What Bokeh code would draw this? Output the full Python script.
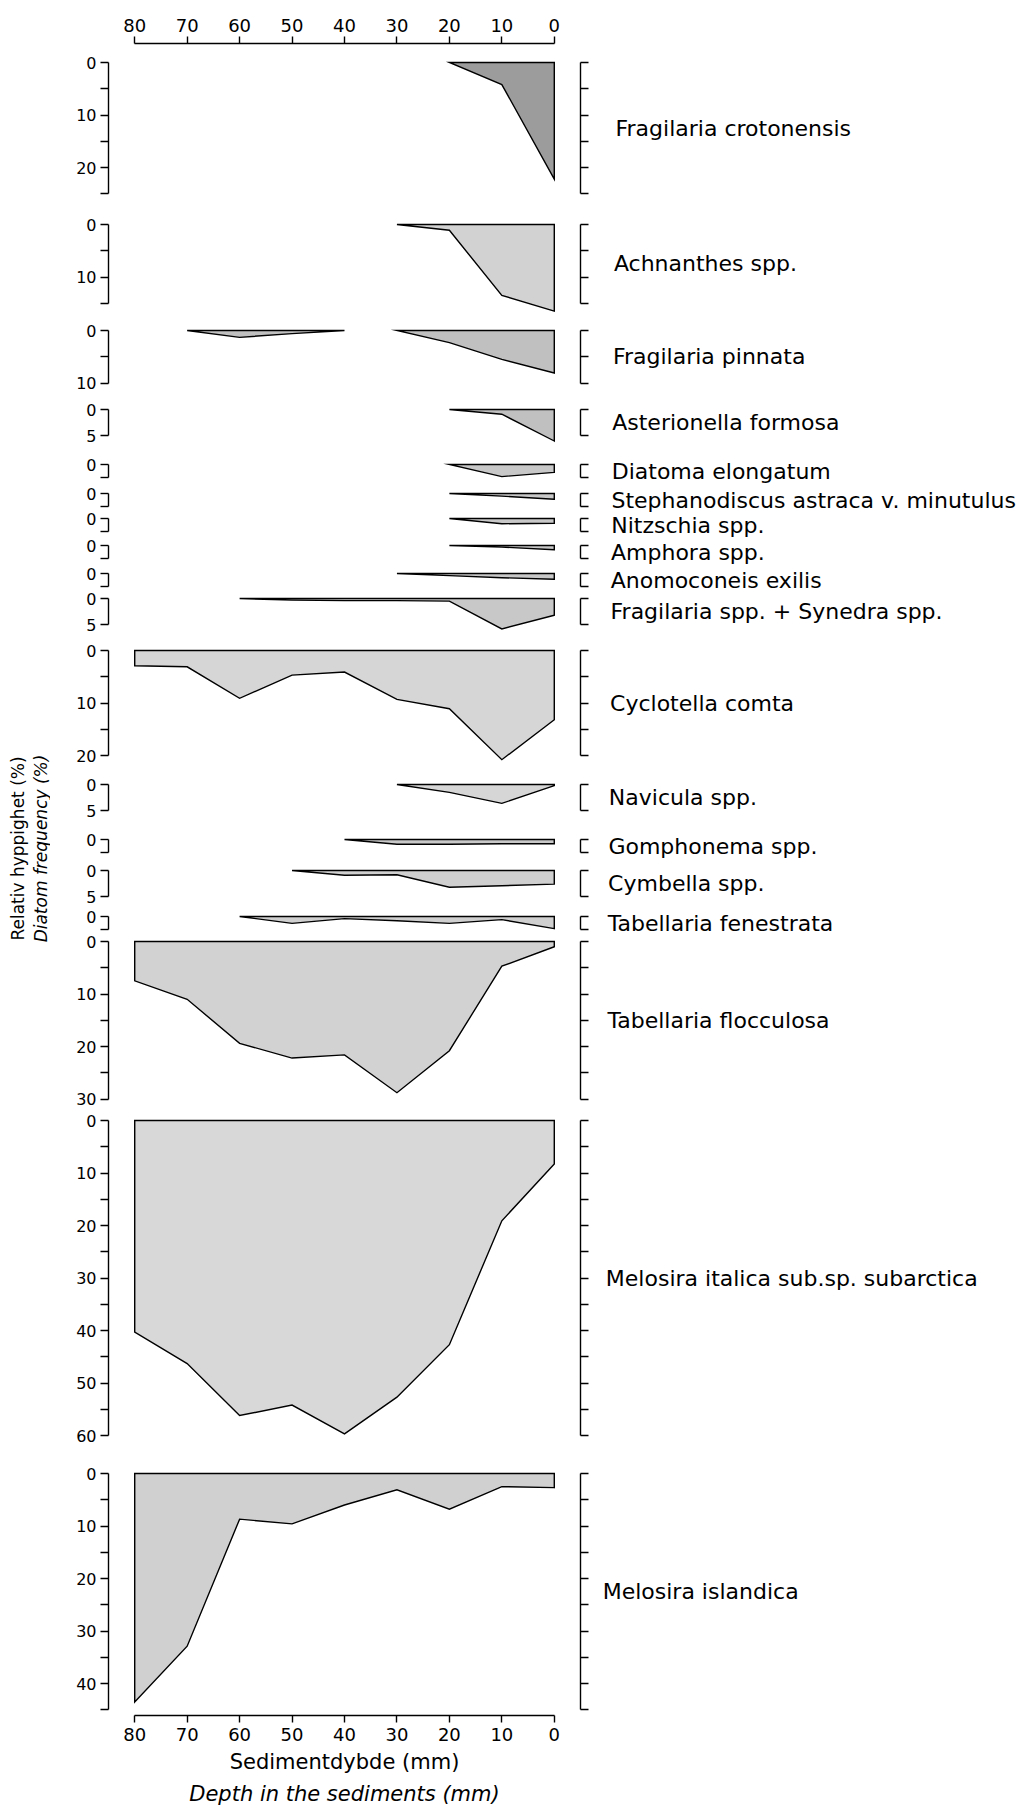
import math
from bokeh.plotting import figure
from bokeh.models import Range1d, FixedTicker, LinearAxis, Title, Label
from bokeh.layouts import column, row
from bokeh.embed import file_html
from bokeh.resources import INLINE

N = None
# ---------------- data ----------------
depths_mm = [0, 10, 20, 30, 40, 50, 60, 70, 80]
x_tick_labels = [0, 10, 20, 30, 40, 50, 60, 70, 80]

species = [
    "Fragilaria crotonensis",
    "Achnanthes spp.",
    "Fragilaria pinnata",
    "Asterionella formosa",
    "Diatoma elongatum",
    "Stephanodiscus astraca v. minutulus",
    "Nitzschia spp.",
    "Amphora spp.",
    "Anomoconeis exilis",
    "Fragilaria spp. + Synedra spp.",
    "Cyclotella comta",
    "Navicula spp.",
    "Gomphonema spp.",
    "Cymbella spp.",
    "Tabellaria fenestrata",
    "Tabellaria flocculosa",
    "Melosira italica sub.sp. subarctica",
    "Melosira islandica",
]

# frequency (%) at depths 0,10,...,80 mm (None = not present)
frag_crotonensis = [22.2, 4.2, 0, N, N, N, N, N, N]
achnanthes = [16.5, 13.5, 1.1, 0, N, N, N, N, N]
frag_pinnata = [8.1, 5.5, 2.3, 0, 0, 0.6, 1.3, 0, N]
asterionella = [6.0, 0.9, 0, N, N, N, N, N, N]
diatoma = [1.5, 2.3, 0, N, N, N, N, N, N]
stephanodiscus = [1.1, 0.5, 0, N, N, N, N, N, N]
nitzschia = [0.9, 1.0, 0, N, N, N, N, N, N]
amphora = [0.8, 0.3, 0, N, N, N, N, N, N]
anomoconeis = [1.1, 0.8, 0.4, 0, N, N, N, N, N]
frag_synedra = [3.2, 5.8, 0.5, 0.4, 0.4, 0.3, 0, N, N]
cyclotella = [13.2, 20.8, 11.1, 9.3, 4.1, 4.7, 9.1, 3.1, 2.9]
navicula = [0.2, 3.6, 1.5, 0, N, N, N, N, N]
gomphonema = [0.8, 0.8, 0.9, 0.9, 0, N, N, N, N]
cymbella = [2.6, 2.9, 3.2, 0.8, 0.9, 0, N, N, N]
tab_fenestrata = [2.3, 0.6, 1.3, 0.8, 0.4, 1.3, 0, N, N]
tab_flocculosa = [1.0, 4.7, 20.8, 28.8, 21.6, 22.2, 19.4, 11.0, 7.5]
mel_italica = [8.3, 19.1, 42.7, 52.7, 59.7, 54.2, 56.2, 46.3, 40.3]
mel_islandica = [2.7, 2.5, 6.8, 3.1, 6.0, 9.6, 8.7, 32.9, 43.5]

series = [frag_crotonensis, achnanthes, frag_pinnata, asterionella, diatoma,
          stephanodiscus, nitzschia, amphora, anomoconeis, frag_synedra,
          cyclotella, navicula, gomphonema, cymbella, tab_fenestrata,
          tab_flocculosa, mel_italica, mel_islandica]

# extent of each panel's % scale (bracket length)
scale_max = [25, 15, 10, 5, 2.5, 2.5, 2.5, 2.5, 2.5, 5, 20, 5, 2.5, 5, 2.5, 30, 60, 45]

# ---------------- layout / style ----------------
S = 5.25            # px per percent
FW = 472            # frame width (85 .. -5 mm)
TW = 50             # width of left title strip
PAGE = 0            # bokeh's page template has no body margin
PAGE_W = 1033
AXIS_TOP_Y = 43
AXIS_BOT_Y = 1715
PAGE_END = 1806
FRAME_LEFT = 108
LBL_HALF = 10
y_zero = [62, 224, 330, 409, 464, 493, 518, 545, 573, 598, 650, 784, 839, 870,
          916, 941, 1120, 1473]
fills = ["#9c9c9c", "#d2d2d2", "#c0c0c0", "#c0c0c0", "#c8c8c8", "#c8c8c8",
         "#c8c8c8", "#c8c8c8", "#c8c8c8", "#c8c8c8", "#d6d6d6", "#d6d6d6",
         "#c8c8c8", "#cfcfcf", "#cfcfcf", "#d2d2d2", "#d8d8d8", "#d0d0d0"]
FONT = "DejaVu Sans"
LW = 1.4

x_range = Range1d(85, -5)
n = len(series)


def ticks_for(vmax):
    if vmax < 5:
        return [0], [vmax]
    if vmax == 5:
        return [0, 5], []
    major = [t for t in range(0, int(vmax) + 1, 10)]
    minor = [t for t in range(5, int(vmax) + 1, 10)]
    return major, minor


# frame geometry
fts, fhs, lastlab = [], [], []
for k in range(n):
    vmax = scale_max[k]
    hi = max(v for v in series[k] if v is not None)
    ext_top = 2
    ext_bot = max(2, math.ceil((hi - vmax) * S) + 3)
    if k == 0:
        ext_top = y_zero[0] - AXIS_TOP_Y
    if k == n - 1:
        ext_bot = AXIS_BOT_Y - (y_zero[k] + vmax * S)
    ft = round(y_zero[k] - ext_top)
    fb = round(y_zero[k] + vmax * S + ext_bot)
    fts.append(ft)
    fhs.append(fb - ft)
    major, _ = ticks_for(vmax)
    lastlab.append(y_zero[k] + max(major) * S + LBL_HALF)

bounds = [PAGE]
for k in range(1, n):
    lo = max(fts[k - 1] + fhs[k - 1], lastlab[k - 1])
    hi_ = min(fts[k], y_zero[k] - LBL_HALF)
    bounds.append(round((lo + hi_) / 2))
bounds.append(PAGE_END)


def runs_of(vals):
    runs, cur = [], []
    for i in range(len(vals) - 1):
        a, b = vals[i], vals[i + 1]
        ok = a is not None and b is not None and (a > 0 or b > 0)
        if ok:
            if not cur:
                cur = [i]
            cur.append(i + 1)
        else:
            if cur:
                runs.append(cur)
            cur = []
    if cur:
        runs.append(cur)
    return runs


def x_axis():
    return LinearAxis(ticker=FixedTicker(ticks=x_tick_labels), bounds=(0, 80),
                      major_tick_out=7, major_tick_in=0, minor_tick_out=0, minor_tick_in=0,
                      major_label_standoff=5, major_label_text_font_size="18px",
                      major_label_text_font=FONT, major_label_text_color="black",
                      axis_line_width=LW, major_tick_line_width=LW,
                      axis_line_color="black", major_tick_line_color="black")


MBL = FRAME_LEFT - PAGE - TW
MBR = 10
col_w = MBL + FW + MBR

panels = []
for k in range(n):
    vmax = scale_max[k]
    ft, fh = fts[k], fhs[k]
    top_val = (ft - y_zero[k]) / S
    bot_val = top_val + fh / S
    p = figure(frame_width=FW, frame_height=fh, x_range=x_range,
               y_range=Range1d(bot_val, top_val),
               x_axis_type=None, y_axis_type=None,
               output_backend="svg", toolbar_location=None,
               min_border_left=MBL, min_border_right=MBR,
               min_border_top=ft - bounds[k],
               min_border_bottom=bounds[k + 1] - (ft + fh))
    p.outline_line_color = None
    p.background_fill_color = None
    p.border_fill_color = None

    vals = series[k]
    for run in runs_of(vals):
        xs = [depths_mm[i] for i in run] + [depths_mm[i] for i in reversed(run)]
        ys = [vals[i] for i in run] + [0] * len(run)
        p.patch(xs, ys, fill_color=fills[k], line_color="black", line_width=LW,
                line_join="miter")

    major, minor = ticks_for(vmax)
    la = LinearAxis(ticker=FixedTicker(ticks=major, minor_ticks=minor), bounds=(0, vmax),
                    major_tick_out=8, major_tick_in=0, minor_tick_out=8, minor_tick_in=0,
                    major_label_standoff=4, major_label_text_font_size="16px",
                    major_label_text_font=FONT, major_label_text_color="black",
                    axis_line_width=LW, major_tick_line_width=LW, minor_tick_line_width=LW,
                    axis_line_color="black", major_tick_line_color="black",
                    minor_tick_line_color="black")
    p.add_layout(la, "left")

    ra = LinearAxis(ticker=FixedTicker(ticks=sorted(set(major + minor))), bounds=(0, vmax),
                    major_tick_out=8, major_tick_in=0, minor_tick_out=0, minor_tick_in=0,
                    major_label_text_font_size="1px", major_label_text_color=None,
                    major_label_standoff=0,
                    axis_line_width=LW, major_tick_line_width=LW,
                    axis_line_color="black", major_tick_line_color="black")
    p.add_layout(ra, "right")

    if k == 0:
        p.add_layout(x_axis(), "above")
    if k == n - 1:
        p.add_layout(x_axis(), "below")
        p.add_layout(Title(text="Sedimentdybde (mm)", align="center", offset=16,
                           text_font_size="21px", text_font=FONT, text_color="black",
                           text_font_style="normal", standoff=8), "below")
        p.add_layout(Title(text="Depth in the sediments (mm)", align="center", offset=8,
                           text_font_size="21px", text_font=FONT, text_color="black",
                           text_font_style="italic", standoff=4), "below")
    panels.append(p)

Htot = PAGE_END - PAGE

# left strip: y-axis titles
tf = figure(width=TW, height=Htot, x_range=Range1d(0, TW), y_range=Range1d(Htot, 0),
            x_axis_type=None, y_axis_type=None, min_border=0,
            output_backend="svg", toolbar_location=None)
tf.outline_line_color = None
tf.add_layout(Label(x=17, y=848, text="Relativ hyppighet (%)", angle=math.pi / 2,
                    text_align="center", text_baseline="middle", text_color="black",
                    text_font_size="17px", text_font=FONT))
tf.add_layout(Label(x=40, y=848, text="Diatom frequency (%)", angle=math.pi / 2,
                    text_align="center", text_baseline="middle", text_color="black",
                    text_font_size="17px", text_font=FONT, text_font_style="italic"))

# right strip: species names next to each bracket
strip_left = PAGE + TW + col_w
SW = PAGE_W - strip_left
bracket_x = FRAME_LEFT + FW
lf = figure(width=SW, height=Htot, x_range=Range1d(0, SW), y_range=Range1d(Htot, 0),
            x_axis_type=None, y_axis_type=None, min_border=0,
            output_backend="svg", toolbar_location=None)
lf.outline_line_color = None
for k in range(n):
    gap = 35 - 15 * (fts[k] - AXIS_TOP_Y) / (AXIS_BOT_Y - AXIS_TOP_Y)
    lf.add_layout(Label(x=bracket_x + gap - strip_left,
                        y=y_zero[k] + scale_max[k] * S / 2 - PAGE,
                        text=species[k], text_align="left", text_baseline="middle",
                        text_color="black", text_font_size="22px", text_font=FONT))

layout = row(tf, column(*panels, spacing=0), lf, spacing=0)
open("out.html", "w").write(file_html(layout, INLINE))
